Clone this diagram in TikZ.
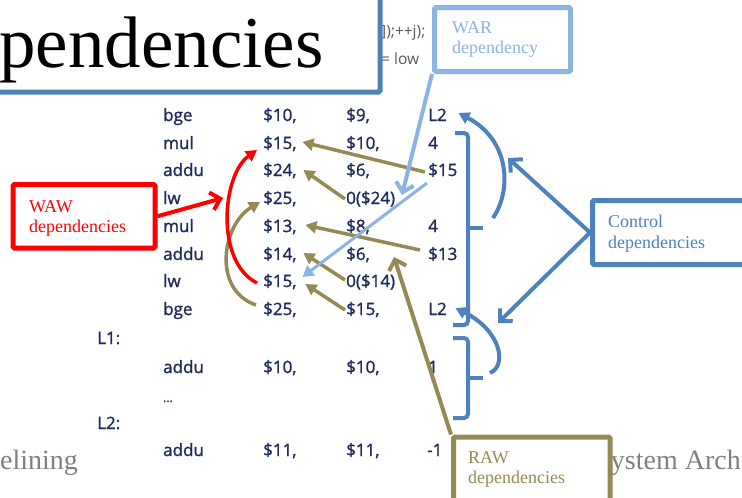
\documentclass[tikz,border=0pt]{standalone}
\usepackage{fontspec}
\setmainfont{Liberation Serif}
\newfontfamily\codefont[FakeBold=1.4]{Open Sans}
\newfontfamily\bgcodefont{Open Sans}
\usetikzlibrary{arrows.meta}
\definecolor{codeblue}{HTML}{1F2A5C}
\definecolor{ctrlblue}{HTML}{4F81BD}
\definecolor{warblue}{HTML}{8DB3E2}
\definecolor{rawolive}{HTML}{948A54}
\definecolor{footgray}{HTML}{7F7F7F}
\definecolor{bggray}{HTML}{595959}

\begin{document}
\begin{tikzpicture}[x=1pt, y=-1pt,
  code/.style={font=\codefont\fontsize{17}{17}\selectfont, text=codeblue, inner sep=0pt, anchor=west, text height=12pt, text depth=0pt},
  reg/.style={code, text width=40pt, align=left},
  imm/.style={code, text width=28pt, align=left},
  bgcode/.style={font=\bgcodefont\fontsize{15.5}{15.5}\selectfont, text=bggray, inner sep=0pt, anchor=west, text height=12pt, text depth=0pt},
  box/.style={draw, line width=5pt, fill=white, inner sep=0pt, rounded corners=1.5pt, anchor=north west},
  lbl/.style={font=\fontsize{18}{18}\selectfont, inner sep=0pt, anchor=base west},
  foot/.style={font=\fontsize{28}{28}\selectfont, text=footgray, inner sep=0pt},
  dep/.style={line width=3.5pt, -{Triangle[length=11pt,width=12pt]}},
  callout/.style={line width=4pt, -{Straight Barb[length=9pt,width=18pt]}},
  brace/.style={draw=ctrlblue, line width=4pt, rounded corners=4pt},
]
\useasboundingbox (0,0) rectangle (742,498);
\clip (0,0) rectangle (742,498);

% loop source peeking out behind the title
\node[bgcode] (bgA) at (381,30) {]);++j);};
\node[bgcode] (bgB) at (381,58) {= low};

% title
\node[box, draw=ctrlblue, minimum width=397.5pt, minimum height=101.5pt] (title) at (-20,-12) {};
\node[font=\fontsize{73}{73}\selectfont, inner sep=0pt, anchor=base west] (titletext) at (-1,67) {pendencies};

% footer
\node[foot, anchor=base west] (footL) at (0,469) {elining};
\node[foot, anchor=base east] (footR) at (741,469) {ystem Arch};

% assembly listing
\node[code] (op1) at (163,115) {bge};
\node[reg]  (a1)  at (263,115) {\$10,};
\node[reg]  (b1)  at (346,115) {\$9,};
\node[imm]  (c1)  at (428,115) {L2};

\node[code] (op2) at (163,143) {mul};
\node[reg]  (a2)  at (263,143) {\$15,};
\node[reg]  (b2)  at (346,143) {\$10,};
\node[imm]  (c2)  at (428,143) {4};

\node[code] (op3) at (163,170) {addu};
\node[reg]  (a3)  at (263,170) {\$24,};
\node[reg]  (b3)  at (346,170) {\$6,};
\node[imm]  (c3)  at (428,170) {\$15};

\node[code] (op4) at (163,198) {lw};
\node[reg]  (a4)  at (263,198) {\$25,};
\node[code] (b4)  at (346,198) {0(\$24)};

\node[code] (op5) at (163,226) {mul};
\node[reg]  (a5)  at (263,226) {\$13,};
\node[reg]  (b5)  at (346,226) {\$8,};
\node[imm]  (c5)  at (428,226) {4};

\node[code] (op6) at (163,254) {addu};
\node[reg]  (a6)  at (263,254) {\$14,};
\node[reg]  (b6)  at (346,254) {\$6,};
\node[imm]  (c6)  at (428,254) {\$13};

\node[code] (op7) at (163,281) {lw};
\node[reg]  (a7)  at (263,281) {\$15,};
\node[code] (b7)  at (346,281) {0(\$14)};

\node[code] (op8) at (163,309) {bge};
\node[reg]  (a8)  at (263,309) {\$25,};
\node[reg]  (b8)  at (346,309) {\$15,};
\node[imm]  (c8)  at (428,309) {L2};

\node[code] (lab1) at (97,338) {L1:};
\node[code] (op9) at (163,367) {addu};
\node[reg]  (a9)  at (263,367) {\$10,};
\node[reg]  (b9)  at (346,367) {\$10,};
\node[imm]  (c9)  at (428,367) {1};
\node[code, font=\codefont\fontsize{12}{12}\selectfont] (dots) at (163,396) {...};

\node[code] (lab2) at (97,423) {L2:};
\node[code] (op10) at (163,450) {addu};
\node[reg]  (a10)  at (263,450) {\$11,};
\node[reg]  (b10)  at (346,450) {\$11,};
\node[imm]  (c10)  at (427,450) {-1};

% control-flow braces
\draw[brace] (455,133) -- (468,133) -- (468,325) -- (453,325);
\draw[brace] (468,228) -- (483,228);
\draw[brace] (453,338) -- (468,338) -- (468,418) -- (453,418);
\draw[brace] (468,378) -- (483,378);
\coordinate (loopA) at (493,218);
\coordinate (loopB) at (490,373);
\draw[line width=4pt, ctrlblue, -{Triangle[length=11pt,width=12pt]}] (loopA) .. controls (512,190) and (510,140) .. ([shift={(2,-2)}]c1.east);
\draw[line width=4pt, ctrlblue, -{Triangle[length=11pt,width=12pt]}] (loopB) .. controls (508,365) and (500,330) .. ([shift={(-1,-1)}]c8.east);

% RAW dependencies
\draw[dep, rawolive] ([shift={(-3,2)}]c3.west) -- ([shift={(-1,-1)}]a2.east);
\draw[dep, rawolive] ([shift={(-1,1)}]b4.west) -- (a3.east);
\draw[dep, rawolive] ([shift={(-8,-4)}]c6.west) -- ([shift={(2,-1)}]a5.east);
\draw[dep, rawolive] ([shift={(-1,-1)}]b7.west) -- ([shift={(0,-1)}]a6.east);
\draw[dep, rawolive] ([shift={(-1,1)}]b8.west) -- ([shift={(2,3)}]a7.east);
\draw[dep, rawolive] ([shift={(-7,-4)}]a8.west) .. controls (212,290) and (222,225) .. ([shift={(-3,4)}]a4.west);

% WAW dependency
\draw[dep, red] ([shift={(-6,2)}]a7.west) .. controls (215,262) and (222,175) .. ([shift={(-6,7)}]a2.west);

% WAR dependency
\draw[line width=3pt, warblue, -{Triangle[length=11pt,width=12pt]}] ([shift={(-1,13)}]c3.west) -- ([shift={(-1,-4)}]a7.east);

% labels
\node[box, draw=warblue, minimum width=136pt, minimum height=64pt] (war) at (432,5) {};
\node[lbl, text=warblue] (warl1) at (452,33) {WAR};
\node[lbl, text=warblue] (warl2) at (452,53) {dependency};

\node[box, draw=red, minimum width=142pt, minimum height=63.5pt] (waw) at (10.5,182) {};
\node[lbl, text=red] (wawl1) at (29,212) {WAW};
\node[lbl, text=red] (wawl2) at (29,232) {dependencies};

\node[box, draw=ctrlblue, minimum width=200pt, minimum height=64pt] (ctrl) at (590,198) {};
\node[lbl, text=ctrlblue] (ctrll1) at (608,227) {Control};
\node[lbl, text=ctrlblue] (ctrll2) at (608,248) {dependencies};

\node[box, draw=rawolive, minimum width=156.5pt, minimum height=90pt] (raw) at (451,434.5) {};
\node[lbl, text=rawolive] (rawl1) at (468,463) {RAW};
\node[lbl, text=rawolive] (rawl2) at (468,483) {dependencies};

% pointers from the labels
\coordinate (warTip) at (402,195);
\coordinate (wawTip) at (223,198);
\coordinate (rawTip) at (394,257);
\coordinate (ctrlTipA) at (508,158);
\coordinate (ctrlTipB) at (498,323);
\draw[callout, warblue] (war.south west) -- (warTip);
\draw[callout, red] (waw.east) -- (wawTip);
\draw[callout, rawolive] (raw.north west) -- (rawTip);
\draw[callout, ctrlblue] (ctrl.west) -- (ctrlTipA);
\draw[callout, ctrlblue] (ctrl.west) -- (ctrlTipB);
\end{tikzpicture}
\end{document}
